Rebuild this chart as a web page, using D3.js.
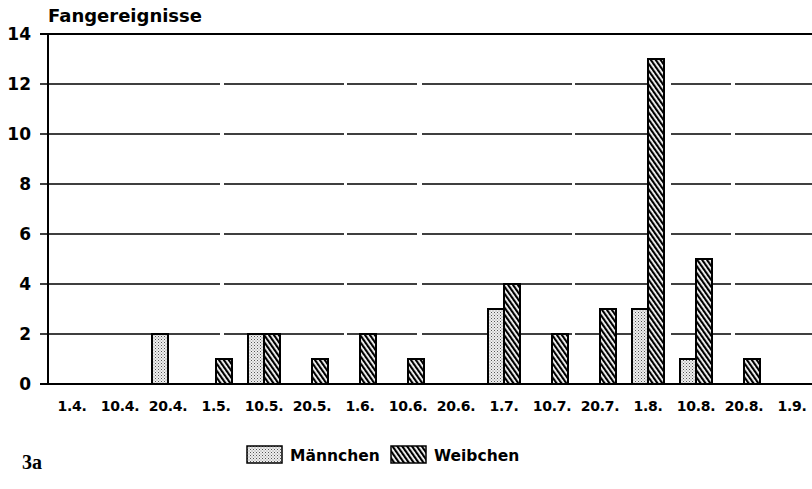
<!DOCTYPE html>
<html>
<head>
<meta charset="utf-8">
<script src="https://cdn.jsdelivr.net/npm/d3@7/dist/d3.min.js"></script>
<style>
  body { margin: 0; background: #fff; }
  svg { display: block; }
</style>
</head>
<body>
<svg id="chart" width="812" height="489"></svg>
<script>
'use strict';
// Data
var dates = ['1.4.', '10.4.', '20.4.', '1.5.', '10.5.', '20.5.', '1.6.', '10.6.',
             '20.6.', '1.7.', '10.7.', '20.7.', '1.8.', '10.8.', '20.8.', '1.9.'];
var maennchen = [0, 0, 2, 0, 2, 0, 0, 0, 0, 3, 0, 0, 3, 1, 0, 0];
var weibchen  = [0, 0, 0, 1, 2, 1, 2, 1, 0, 4, 2, 3, 13, 5, 1, 0];
var yTicks = [0, 2, 4, 6, 8, 10, 12, 14];
var seriesNames = ['Männchen', 'Weibchen'];

var svg = d3.select('#chart');
var font = '"DejaVu Sans", Arial, sans-serif';

// patterns
var defs = svg.append('defs');
var dots = defs.append('pattern')
    .attr('id', 'dots')
    .attr('patternUnits', 'userSpaceOnUse')
    .attr('width', 3).attr('height', 3);
dots.append('rect').attr('width', 3).attr('height', 3).attr('fill', '#eee');
dots.append('rect').attr('x', 0).attr('y', 0).attr('width', 1).attr('height', 1).attr('fill', '#555');
dots.append('rect').attr('x', 1.5).attr('y', 1.5).attr('width', 1).attr('height', 1).attr('fill', '#888');

var hatch = defs.append('pattern')
    .attr('id', 'hatch')
    .attr('patternUnits', 'userSpaceOnUse')
    .attr('width', 4).attr('height', 4)
    .attr('patternTransform', 'rotate(-35)');
hatch.append('rect').attr('width', 4).attr('height', 4).attr('fill', '#fff');
hatch.append('rect').attr('x', 0).attr('y', 0).attr('width', 2.2).attr('height', 4).attr('fill', '#000');

var fills = { 'Männchen': 'url(#dots)', 'Weibchen': 'url(#hatch)' };

// scales
var x = d3.scaleBand()
    .domain(dates)
    .range([48, 816])
    .paddingInner(1 / 3)
    .paddingOuter(1 / 6);
var xSub = d3.scaleBand()
    .domain(seriesNames)
    .range([0, x.bandwidth()]);
var y = d3.scaleLinear()
    .domain([0, 14])
    .range([384, 34]);

// gridlines (the print is a bit broken up)
svg.append('g')
    .selectAll('line')
    .data(yTicks)
    .join('line')
    .attr('x1', 40)
    .attr('x2', 812)
    .attr('y1', function(d) { return y(d); })
    .attr('y2', function(d) { return y(d); })
    .attr('stroke', '#000')
    .attr('stroke-width', function(d) { return (d === 0 || d === 14) ? 2 : 1.3; })
    .attr('stroke-dasharray', function(d) {
        return (d === 0 || d === 14) ? null : '180,4,120,3,70,5,150,3,90,6,60,4';
    });

// y axis line
svg.append('line')
    .attr('x1', 48).attr('x2', 48)
    .attr('y1', y(14)).attr('y2', y(0))
    .attr('stroke', '#000').attr('stroke-width', 2);

// y tick labels
svg.append('g')
    .selectAll('text')
    .data(yTicks)
    .join('text')
    .attr('x', 31)
    .attr('y', function(d) { return y(d); })
    .attr('dy', '0.36em')
    .attr('text-anchor', 'end')
    .style('font-family', font)
    .style('font-weight', 'bold')
    .style('font-size', '17px')
    .text(function(d) { return d; });

// title
svg.append('text')
    .attr('x', 48).attr('y', 22)
    .attr('textLength', 154)
    .attr('lengthAdjust', 'spacingAndGlyphs')
    .style('font-family', font)
    .style('font-weight', 'bold')
    .style('font-size', '17px')
    .text('Fangereignisse');

// bars
var rows = dates.map(function(d, i) {
    return { date: d, values: [
        { key: 'Männchen', value: maennchen[i] },
        { key: 'Weibchen', value: weibchen[i] }
    ] };
});
var groups = svg.append('g')
    .selectAll('g')
    .data(rows)
    .join('g')
    .attr('transform', function(d) { return 'translate(' + x(d.date) + ',0)'; });
groups.selectAll('rect')
    .data(function(d) { return d.values.filter(function(v) { return v.value > 0; }); })
    .join('rect')
    .attr('x', function(d) { return xSub(d.key); })
    .attr('y', function(d) { return y(d.value); })
    .attr('width', xSub.bandwidth())
    .attr('height', function(d) { return y(0) - y(d.value); })
    .attr('fill', function(d) { return fills[d.key]; })
    .attr('stroke', '#000')
    .attr('stroke-width', 2);

// x labels
svg.append('g')
    .selectAll('text')
    .data(dates)
    .join('text')
    .attr('x', function(d) { return x(d) + x.bandwidth() / 2; })
    .attr('y', 411)
    .attr('text-anchor', 'middle')
    .style('font-family', font)
    .style('font-weight', 'bold')
    .style('font-size', '14px')
    .style('letter-spacing', '-0.3px')
    .text(function(d) { return d; });

// legend
var legendX = [247, 391];
var legend = svg.append('g')
    .selectAll('g')
    .data(seriesNames)
    .join('g')
    .attr('transform', function(d, i) { return 'translate(' + legendX[i] + ',446)'; });
legend.append('rect')
    .attr('width', 35).attr('height', 17)
    .attr('fill', function(d) { return fills[d]; })
    .attr('stroke', '#000').attr('stroke-width', 1.5);
legend.append('text')
    .attr('x', 43).attr('y', 15)
    .style('font-family', font)
    .style('font-weight', 'bold')
    .style('font-size', '15.5px')
    .text(function(d) { return d; });

svg.append('text')
    .attr('x', 22).attr('y', 469)
    .style('font-family', '"Liberation Serif", serif')
    .style('font-weight', 'bold')
    .style('font-size', '20px')
    .text('3a');
</script>
</body>
</html>
